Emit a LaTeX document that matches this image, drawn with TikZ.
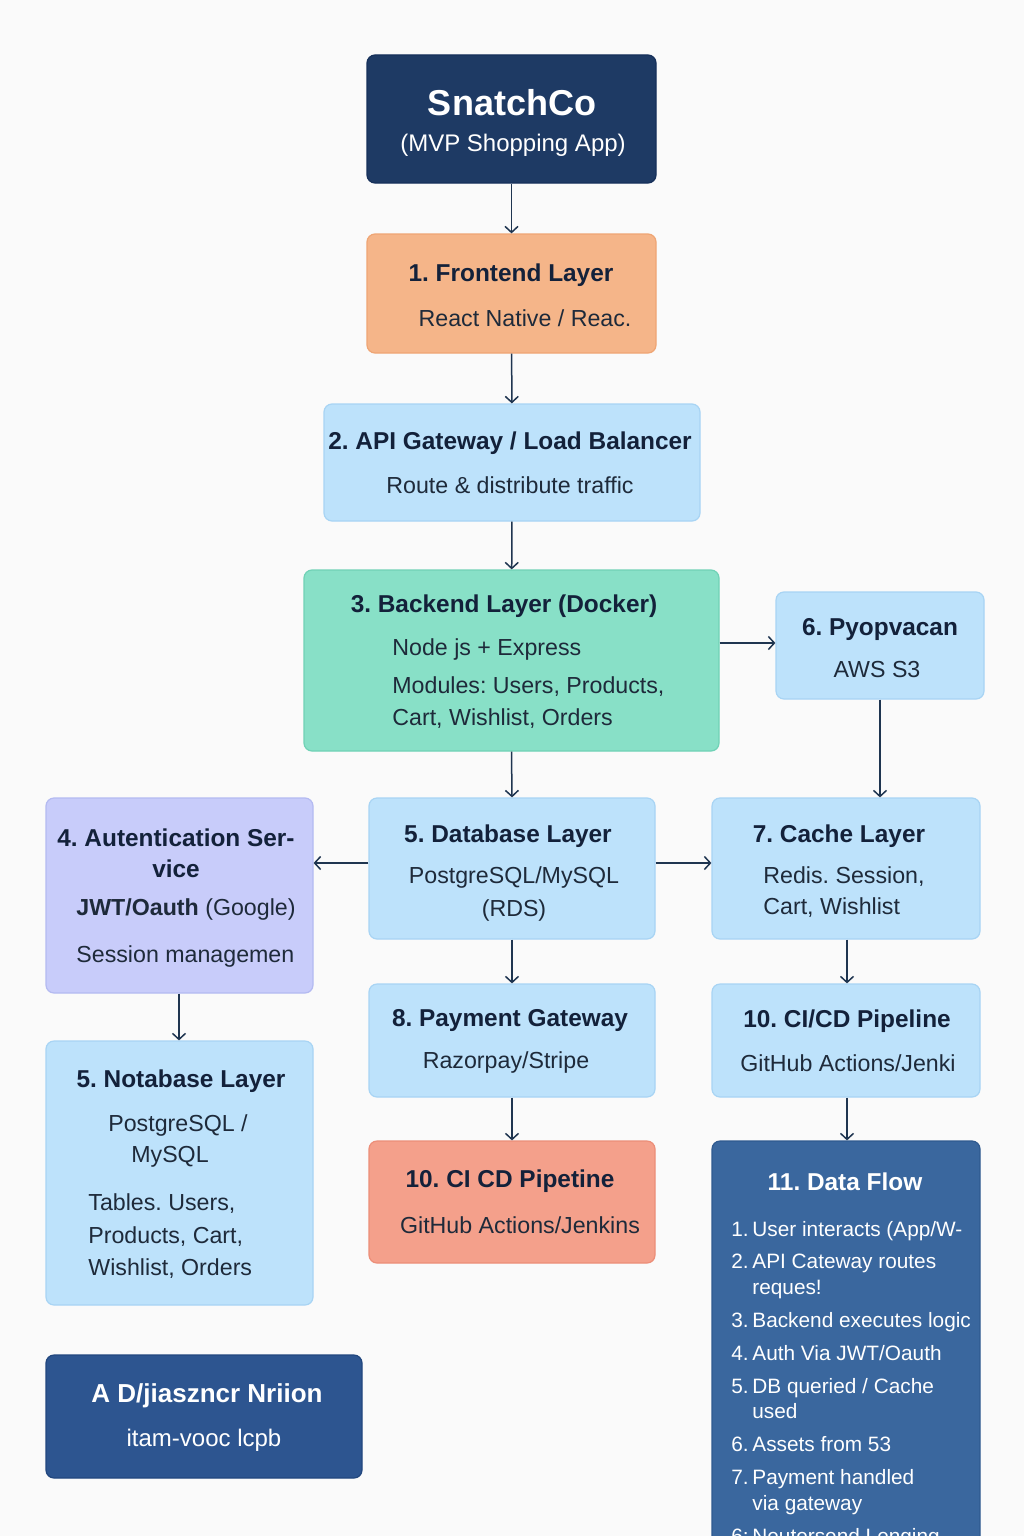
\documentclass[tikz,border=0pt]{standalone}
\usepackage{fontspec}
\setmainfont{Liberation Sans}
\usetikzlibrary{arrows.meta,fit}
\definecolor{bgc}{HTML}{FAFAFA}
\definecolor{navy}{HTML}{1E3A64}
\definecolor{navyb}{HTML}{16305A}
\definecolor{orangef}{HTML}{F5B589}
\definecolor{orangeb}{HTML}{EFA574}
\definecolor{bluef}{HTML}{BDE2FB}
\definecolor{blueb}{HTML}{A8D4F4}
\definecolor{mintf}{HTML}{88E0C7}
\definecolor{mintb}{HTML}{70D2B6}
\definecolor{lavf}{HTML}{C8CCFA}
\definecolor{lavb}{HTML}{B4BAF1}
\definecolor{pinkf}{HTML}{F4A08B}
\definecolor{pinkb}{HTML}{EC8E78}
\definecolor{flowf}{HTML}{3A679E}
\definecolor{flowb}{HTML}{2F5A90}
\definecolor{noteF}{HTML}{2D5590}
\definecolor{noteB}{HTML}{21467E}
\definecolor{headc}{HTML}{13213A}
\definecolor{bodyc}{HTML}{1E2A3A}
\definecolor{arrc}{HTML}{1F3550}
\frenchspacing
\begin{document}
\begin{tikzpicture}[x=0.5pt,y=-0.5pt,
  box/.style={draw, rounded corners=4pt, inner sep=0pt, line width=0.6pt},
  hd/.style={font=\fontsize{12.2}{14}\selectfont\bfseries, text=headc, inner sep=0pt},
  bd/.style={font=\fontsize{11.6}{14}\selectfont, text=bodyc, inner sep=0pt},
  wh/.style={font=\fontsize{10.4}{13}\selectfont, text=white, inner sep=0pt, text height=1.6ex, text depth=0.4ex},
  arr/.style={draw=arrc, line width=0.75pt, -{Straight Barb[length=3pt,width=6.5pt]}}]
\path[use as bounding box, fill=bgc] (0,0) rectangle (1024,1536);
\clip (0,0) rectangle (1024,1536);

% boxes
\node[box, fill=navy, draw=navyb, fit={(367,55) (656,183)}] (title) {};
\node[box, fill=orangef, draw=orangeb, fit={(367,234) (656,353)}] (front) {};
\node[box, fill=bluef, draw=blueb, fit={(324,404) (700,521)}] (api) {};
\node[box, fill=mintf, draw=mintb, fit={(304,570) (719,751)}] (back) {};
\node[box, fill=bluef, draw=blueb, fit={(776,592) (984,699)}] (store) {};
\node[box, fill=lavf, draw=lavb, fit={(46,798) (313,993)}] (auth) {};
\node[box, fill=bluef, draw=blueb, fit={(369,798) (655,939)}] (db) {};
\node[box, fill=bluef, draw=blueb, fit={(712,798) (980,939)}] (cache) {};
\node[box, fill=bluef, draw=blueb, fit={(46,1041) (313,1305)}] (notadb) {};
\node[box, fill=bluef, draw=blueb, fit={(369,984) (655,1097)}] (pay) {};
\node[box, fill=bluef, draw=blueb, fit={(712,984) (980,1097)}] (cicd) {};
\node[box, fill=pinkf, draw=pinkb, fit={(369,1141) (655,1263)}] (cicdb) {};
\node[box, fill=flowf, draw=flowb, fit={(712,1141) (980,1580)}] (flow) {};
\node[box, fill=noteF, draw=noteB, fit={(46,1355) (362,1478)}] (note) {};

% texts
\node[font=\fontsize{18}{20}\selectfont\bfseries, text=white, inner sep=0pt] (title-a) at (512,103) {SnatchCo};
\node[font=\fontsize{12}{14}\selectfont, text=white, inner sep=0pt] (title-b) at (513,145) {(MVP Shopping App)};

\node[hd] (front-a) at (511,275) {1. Frontend Layer};
\node[bd] (front-b) at (525,318) {React Native / Reac.};

\node[hd] (api-a) at (510,443) {2. API Gateway / Load Balancer};
\node[bd] (api-b) at (510,485) {Route \& distribute traffic};

\node[hd] (back-a) at (504,606) {3. Backend Layer (Docker)};
\node[bd, anchor=west] (back-b) at (392,649) {Node js + Express};
\node[bd, anchor=west] (back-c) at (392,687) {Modules: Users, Products,};
\node[bd, anchor=west] (back-d) at (392,719) {Cart, Wishlist, Orders};

\node[hd] (store-a) at (880,630) {6. Pyopvacan};
\node[bd] (store-b) at (877,670) {AWS S3};

\node[hd] (auth-a) at (176,838) {4. Autentication Ser-};
\node[hd] (auth-b) at (176,869) {vice};
\node[bd, anchor=west] (auth-c) at (76,909) {{\bfseries JWT/Oauth} (Google)};
\node[bd, anchor=west] (auth-d) at (76,956) {Session managemen};

\node[hd] (db-a) at (508,836) {5. Database Layer};
\node[bd] (db-b) at (514,877) {PostgreSQL/MySQL};
\node[bd] (db-c) at (514,910) {(RDS)};

\node[hd] (cache-a) at (839,836) {7. Cache Layer};
\node[bd, anchor=west] (cache-b) at (763,877) {Redis. Session,};
\node[bd, anchor=west] (cache-c) at (763,908) {Cart, Wishlist};

\node[hd] (nota-a) at (181,1081) {5. Notabase Layer};
\node[bd] (nota-b) at (178,1125) {PostgreSQL /};
\node[bd] (nota-c) at (170,1157) {MySQL};
\node[bd, anchor=west] (nota-d) at (88,1204) {Tables. Users,};
\node[bd, anchor=west] (nota-e) at (88,1237) {Products, Cart,};
\node[bd, anchor=west] (nota-f) at (88,1269) {Wishlist, Orders};

\node[hd] (pay-a) at (510,1021) {8. Payment Gateway};
\node[bd] (pay-b) at (506,1062) {Razorpay/Stripe};

\node[hd] (cicd-a) at (847,1021) {10. CI/CD Pipeline};
\node[bd] (cicd-b) at (848,1063) {GitHub Actions/Jenki};

\node[hd] (cicdb-a) at (510,1181) {10. CI CD Pipetine};
\node[bd] (cicdb-b) at (520,1225) {GitHub Actions/Jenkins};

\node[font=\fontsize{12.2}{14}\selectfont\bfseries, text=white, inner sep=0pt] (flow-h) at (845,1182) {11. Data Flow};
\node[wh, anchor=west] (f1n) at (731,1230) {1.};
\node[wh, anchor=west] (f1) at (752,1230) {User interacts (App/W-};
\node[wh, anchor=west] (f2n) at (731,1262) {2.};
\node[wh, anchor=west] (f2) at (752,1262) {API Cateway routes};
\node[wh, anchor=west] (f2b) at (752,1288) {reques!};
\node[wh, anchor=west] (f3n) at (731,1321) {3.};
\node[wh, anchor=west] (f3) at (752,1321) {Backend executes logic};
\node[wh, anchor=west] (f4n) at (731,1354) {4.};
\node[wh, anchor=west] (f4) at (752,1354) {Auth Via JWT/Oauth};
\node[wh, anchor=west] (f5n) at (731,1387) {5.};
\node[wh, anchor=west] (f5) at (752,1387) {DB queried / Cache};
\node[wh, anchor=west] (f5b) at (752,1412) {used};
\node[wh, anchor=west] (f6n) at (731,1445) {6.};
\node[wh, anchor=west] (f6) at (752,1445) {Assets from 53};
\node[wh, anchor=west] (f7n) at (731,1478) {7.};
\node[wh, anchor=west] (f7) at (752,1478) {Payment handled};
\node[wh, anchor=west] (f7b) at (752,1504) {via gateway};
\node[wh, anchor=west] (f8n) at (731,1537) {6:};
\node[wh, anchor=west] (f8) at (752,1537) {Neutersend Lenging};

\node[font=\fontsize{13}{15}\selectfont\bfseries, text=white, inner sep=0pt] (note-a) at (207,1396) {A D/jiaszncr Nriion};
\node[font=\fontsize{12}{14}\selectfont, text=white, inner sep=0pt] (note-b) at (204,1440) {itam-vooc lcpb};

% connectors
\draw[arr] (title) -- (front);
\draw[arr] (front) -- (api);
\draw[arr] (api) -- (back);
\draw[arr] (back.south) -- (db.north);
\draw[arr] (back.east |- 0,643) -- (store.west |- 0,643);
\draw[arr] (store.south -| 880,0) -- (cache.north -| 880,0);
\draw[arr] (db.west |- 0,863) -- (auth.east |- 0,863);
\draw[arr] (db.east |- 0,863) -- (cache.west |- 0,863);
\draw[arr] (auth.south -| 179,0) -- (notadb.north -| 179,0);
\draw[arr] (db.south -| 512,0) -- (pay.north -| 512,0);
\draw[arr] (cache.south -| 847,0) -- (cicd.north -| 847,0);
\draw[arr] (pay.south -| 512,0) -- (cicdb.north -| 512,0);
\draw[arr] (cicd.south -| 847,0) -- (flow.north -| 847,0);
\end{tikzpicture}
\end{document}
